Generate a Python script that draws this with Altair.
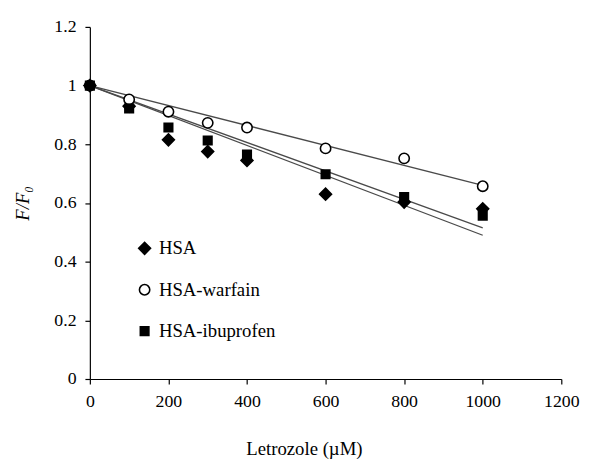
import altair as alt
import pandas as pd

# ---- data ----
conc = [0, 100, 200, 300, 400, 600, 800, 1000]
hsa = [1.0, 0.93, 0.815, 0.775, 0.745, 0.63, 0.603, 0.58]
warfain = [1.0, 0.953, 0.911, 0.873, 0.857, 0.786, 0.752, 0.657]
ibuprofen = [1.0, 0.922, 0.857, 0.813, 0.765, 0.698, 0.62, 0.557]
series_names = ["HSA", "HSA-warfain", "HSA-ibuprofen"]

# fitted straight lines (end points)
fit_x = [0, 1000]
fit_hsa = [1.0, 0.49]
fit_warfain = [1.0, 0.66]
fit_ibuprofen = [1.0, 0.515]

x_ticks = [0, 200, 400, 600, 800, 1000, 1200]
y_ticks = [0, 0.2, 0.4, 0.6, 0.8, 1.0, 1.2]

rows = []
for name, vals in zip(series_names, [hsa, warfain, ibuprofen]):
    for x, y in zip(conc, vals):
        rows.append({"series": name, "conc": x, "ratio": y})
points_df = pd.DataFrame(rows)

fit_rows = []
for name, vals in zip(series_names, [fit_hsa, fit_warfain, fit_ibuprofen]):
    for x, y in zip(fit_x, vals):
        fit_rows.append({"series": name, "conc": x, "ratio": y})
fit_df = pd.DataFrame(fit_rows)

FONT = "Liberation Serif"

x_scale = alt.Scale(domain=[0, 1200], nice=False)
y_scale = alt.Scale(domain=[0, 1.2], nice=False)

x_axis = alt.Axis(
    values=x_ticks, format="d", title="Letrozole (µM)", grid=False,
    titleX=217, titleY=62, titleFontWeight="normal",
)
y_axis = alt.Axis(
    values=y_ticks, format="~g", title="F/F₀", grid=False,
    titleFontStyle="italic", titleFontWeight="normal", titlePadding=22,
)

lines = alt.Chart(fit_df).mark_line(color="#4a4a4a", strokeWidth=1.3).encode(
    x=alt.X("conc:Q", scale=x_scale, axis=x_axis),
    y=alt.Y("ratio:Q", scale=y_scale, axis=y_axis),
    detail="series:N",
)

points = alt.Chart(points_df).mark_point(
    opacity=1, stroke="black", strokeWidth=1.6
).encode(
    x=alt.X("conc:Q", scale=x_scale),
    y=alt.Y("ratio:Q", scale=y_scale),
    shape=alt.Shape(
        "series:N",
        scale=alt.Scale(domain=series_names, range=["diamond", "circle", "square"]),
        legend=alt.Legend(
            title=None, orient="none", legendX=46, legendY=215,
            labelFont=FONT, labelFontSize=19, labelColor="black",
            rowPadding=22, labelOffset=5, padding=0,
            symbolStrokeColor="black", symbolStrokeWidth=1.6,
        ),
    ),
    fill=alt.Fill(
        "series:N",
        scale=alt.Scale(domain=series_names, range=["black", "white", "black"]),
    ),
    size=alt.Size(
        "series:N",
        scale=alt.Scale(domain=series_names, range=[145, 75, 125]),
    ),
)

chart = alt.layer(lines, points).properties(
    width=478, height=357,
    autosize=alt.AutoSizeParams(type="none"),
    padding={"left": 83, "top": 16, "right": 22, "bottom": 82},
    background="white",
).configure_view(stroke=None).configure_axis(
    labelFont=FONT, titleFont=FONT, labelFontSize=18, titleFontSize=19,
    labelColor="black", titleColor="black", domainColor="black",
    tickColor="black", tickSize=5, labelPadding=9, domainWidth=1.2,
    tickWidth=1.2, labelFlush=False,
)

chart.save("out.html", embed_options={"renderer": "svg", "actions": False})
